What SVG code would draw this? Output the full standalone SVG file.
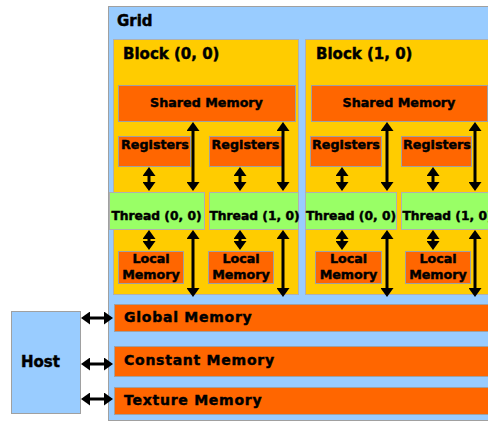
<svg xmlns="http://www.w3.org/2000/svg" width="488" height="422" viewBox="0 0 488 422">
<style>
text{font-family:"DejaVu Sans",Verdana,sans-serif;font-weight:bold;fill:#000;stroke:#000;stroke-width:0.45px}
.grid{fill:#99CCFF;stroke:#A0A0A0;stroke-width:1}
.block{fill:#FFCC00;stroke:#B0B0B0;stroke-width:1}
.mem{fill:#FF6600;stroke:#A0A0A0;stroke-width:1}
.thr{fill:#99FF66;stroke:#B0B0B0;stroke-width:1}
.t15{font-size:15px}
.t13{font-size:12.7px;text-anchor:middle}
.big{font-size:14px;letter-spacing:0.75px}
.arr{stroke:#000;stroke-width:3;fill:none;marker-start:url(#ah);marker-end:url(#ah)}
</style>
<defs>
<marker id="ah" viewBox="0 0 9 13" refX="1" refY="6.5" markerWidth="9" markerHeight="13" markerUnits="userSpaceOnUse" orient="auto-start-reverse">
<path d="M0,0 L9,6.5 L0,13 z" fill="#000"/>
</marker>
</defs>
<g id="grid">
<rect class="grid" x="108.5" y="6.5" width="390" height="414"/>
<text class="t15" x="117" y="26">Grid</text>
</g>
<g id="host">
<rect class="grid" x="11.5" y="311.5" width="69" height="102"/>
<text class="t15" x="21" y="367">Host</text>
</g>
<g id="block00">
<rect class="block" x="113.5" y="39.5" width="185" height="255"/>
<text class="t15" x="123" y="59">Block (0, 0)</text>
</g>
<g id="block10">
<rect class="block" x="305.5" y="39.5" width="195" height="255"/>
<text class="t15" x="316" y="59">Block (1, 0)</text>
</g>
<g id="shared0">
<rect class="mem" x="118.5" y="85.5" width="177" height="36"/>
<text class="t13" x="206.5" y="107">Shared Memory</text>
</g>
<g id="shared1">
<rect class="mem" x="311.5" y="85.5" width="176" height="36"/>
<text class="t13" x="399" y="107">Shared Memory</text>
</g>
<g id="reg00">
<rect class="mem" x="118.5" y="136.5" width="72" height="30"/>
<text class="t13" x="155" y="149">Registers</text>
</g>
<g id="reg01">
<rect class="mem" x="209.5" y="136.5" width="73" height="30"/>
<text class="t13" x="245.5" y="149">Registers</text>
</g>
<g id="reg10">
<rect class="mem" x="310.5" y="136.5" width="71" height="30"/>
<text class="t13" x="346" y="149">Registers</text>
</g>
<g id="reg11">
<rect class="mem" x="401.5" y="136.5" width="70" height="30"/>
<text class="t13" x="437" y="149">Registers</text>
</g>
<g id="thr00">
<rect class="thr" x="109.5" y="192.5" width="95" height="37"/>
<text class="t13" x="156.5" y="220" style="font-size:12.3px">Thread (0, 0)</text>
</g>
<g id="thr01">
<rect class="thr" x="209.5" y="192.5" width="89" height="37"/>
<text class="t13" x="254.5" y="220" style="font-size:12.3px">Thread (1, 0)</text>
</g>
<g id="thr10">
<rect class="thr" x="305.5" y="192.5" width="91" height="37"/>
<text class="t13" x="351" y="220" style="font-size:12.3px">Thread (0, 0)</text>
</g>
<g id="thr11">
<rect class="thr" x="401.5" y="192.5" width="95" height="37"/>
<text class="t13" x="447.5" y="220" style="font-size:12.3px">Thread (1, 0)</text>
</g>
<g id="loc00">
<rect class="mem" x="118.5" y="251.5" width="65" height="32"/>
<text class="t13" x="151" y="263">Local</text>
<text class="t13" x="151" y="279">Memory</text>
</g>
<g id="loc01">
<rect class="mem" x="208.5" y="251.5" width="65" height="32"/>
<text class="t13" x="241" y="263">Local</text>
<text class="t13" x="241" y="279">Memory</text>
</g>
<g id="loc10">
<rect class="mem" x="315.5" y="251.5" width="66" height="32"/>
<text class="t13" x="348.5" y="263">Local</text>
<text class="t13" x="348.5" y="279">Memory</text>
</g>
<g id="loc11">
<rect class="mem" x="405.5" y="251.5" width="65" height="32"/>
<text class="t13" x="438" y="263">Local</text>
<text class="t13" x="438" y="279">Memory</text>
</g>
<g id="global">
<rect class="mem" x="114.5" y="304.5" width="390" height="27"/>
<text class="big" x="124" y="322">Global Memory</text>
</g>
<g id="constant">
<rect class="mem" x="114.5" y="346.5" width="390" height="30"/>
<text class="big" x="124" y="365">Constant Memory</text>
</g>
<g id="texture">
<rect class="mem" x="114.5" y="387.5" width="390" height="27"/>
<text class="big" x="124" y="405">Texture Memory</text>
</g>
<g id="connectors">
<line class="arr" x1="149" y1="175" x2="149" y2="183"/>
<line class="arr" x1="149" y1="238" x2="149" y2="242"/>
<line class="arr" x1="193" y1="130" x2="193" y2="183"/>
<line class="arr" x1="193" y1="238" x2="193" y2="289"/>
<line class="arr" x1="240" y1="175" x2="240" y2="183"/>
<line class="arr" x1="240" y1="238" x2="240" y2="242"/>
<line class="arr" x1="283" y1="130" x2="283" y2="183"/>
<line class="arr" x1="283" y1="238" x2="283" y2="289"/>
<line class="arr" x1="342" y1="175" x2="342" y2="183"/>
<line class="arr" x1="342" y1="238" x2="342" y2="242"/>
<line class="arr" x1="387" y1="130" x2="387" y2="183"/>
<line class="arr" x1="387" y1="238" x2="387" y2="289"/>
<line class="arr" x1="433" y1="175" x2="433" y2="183"/>
<line class="arr" x1="433" y1="238" x2="433" y2="242"/>
<line class="arr" x1="475" y1="130" x2="475" y2="183"/>
<line class="arr" x1="475" y1="238" x2="475" y2="289"/>
<line class="arr" x1="89" y1="318" x2="105" y2="318"/>
<line class="arr" x1="89" y1="364" x2="105" y2="364"/>
<line class="arr" x1="89" y1="399" x2="105" y2="399"/>
</g>
</svg>
